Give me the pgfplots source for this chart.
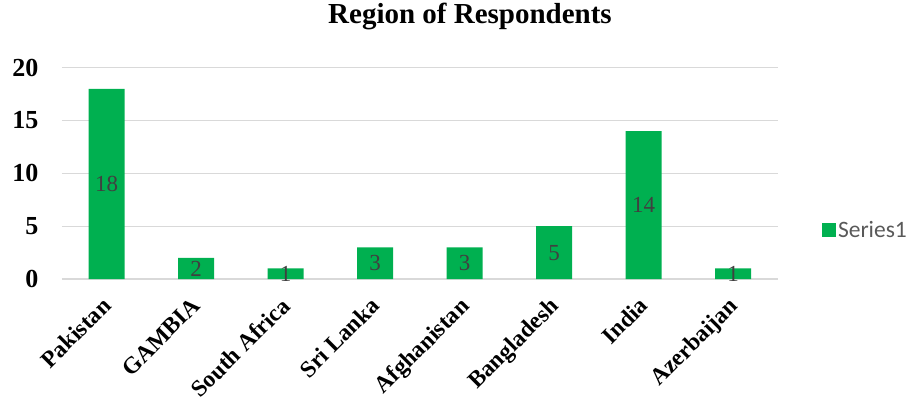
\documentclass[border=0pt]{standalone}
\usepackage{pgfplots}
\pgfplotsset{compat=1.18}
\usepackage{fontspec}
\setmainfont{Liberation Serif}
\newfontfamily\calibri{Carlito}

\definecolor{barGreen}{HTML}{00B050}
\definecolor{gridGray}{HTML}{D9D9D9}
\definecolor{labelGray}{HTML}{404040}
\definecolor{legendGray}{HTML}{595959}

\begin{document}
\begin{tikzpicture}
\useasboundingbox (0,0) rectangle (911pt,402pt);
\node[font=\bfseries\fontsize{29}{33}\selectfont, anchor=base] at (470pt,378pt) {Region of Respondents};
\begin{axis}[
  at={(62pt,123pt)}, anchor=south west,
  scale only axis,
  width=716pt, height=211.3pt,
  ymin=0, ymax=20,
  xmin=-0.5, xmax=7.5,
  ytick={0,5,10,15,20},
  xtick={0,1,2,3,4,5,6,7},
  xticklabels={Pakistan,GAMBIA,South Africa,Sri Lanka,Afghanistan,Bangladesh,India,Azerbaijan},
  ymajorgrids,
  grid style={gridGray, line width=1.3pt},
  axis line style={draw=none},
  major tick length=0pt,
  /pgf/number format/assume math mode=true,
  yticklabel style={font=\rmfamily\bfseries\fontsize{26}{30}\selectfont, anchor=east, xshift=-20pt},
  xticklabel style={font=\rmfamily\bfseries\fontsize{23.5}{28}\selectfont, xshift=-6pt, yshift=-12pt, rotate=45, anchor=north east},
  ybar, bar width=36pt,
  legend style={at={(1.057,0.232)}, anchor=west, draw=none, fill=none,
    font=\calibri\fontsize{23.5}{28}\selectfont\color{legendGray}},
  legend image code/.code={\fill[barGreen] (0pt,-7pt) rectangle (14pt,7pt);},
  nodes near coords,
  visualization depends on={y \as \barval},
  every node near coord/.append style={anchor=center, yshift=-0.5*\barval*10.565pt,
    font=\rmfamily\fontsize{23}{27}\selectfont, text=labelGray},
]
\addplot[fill=barGreen, draw=none] coordinates {
  (0,18) (1,2) (2,1) (3,3) (4,3) (5,5) (6,14) (7,1)
};
\addlegendentry{Series1}
\end{axis}
\end{tikzpicture}
\end{document}
